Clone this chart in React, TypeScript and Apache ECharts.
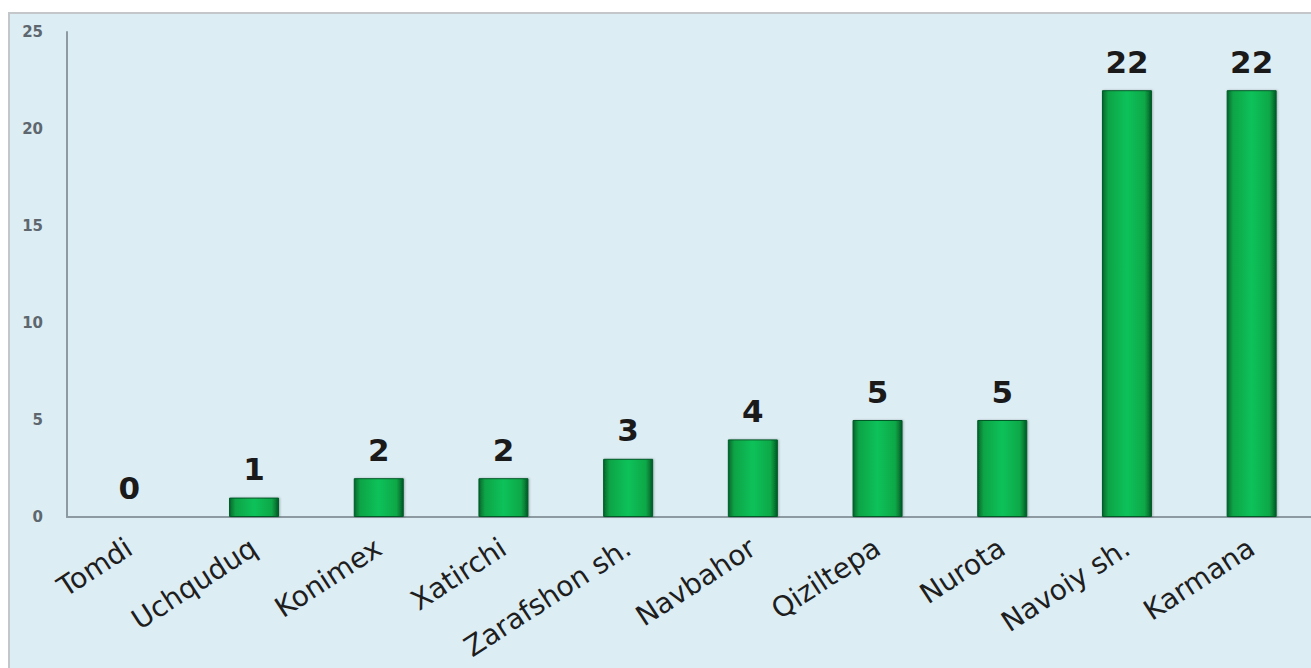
import React, { useEffect, useRef } from "react";
import * as echarts from "echarts";

const categories = [
  "Tomdi",
  "Uchquduq",
  "Konimex",
  "Xatirchi",
  "Zarafshon sh.",
  "Navbahor",
  "Qiziltepa",
  "Nurota",
  "Navoiy sh.",
  "Karmana",
];
const values = [0, 1, 2, 2, 3, 4, 5, 5, 22, 22];
const yTicks = { min: 0, max: 25, interval: 5 };

export default function App() {
  const ref = useRef<HTMLDivElement>(null);
  useEffect(() => {
    if (!ref.current) return;
    const chart = echarts.init(ref.current, null, { renderer: "svg" });
    const barGrad = new echarts.graphic.LinearGradient(0, 0, 1, 0, [
      { offset: 0, color: "#05672c" },
      { offset: 0.12, color: "#0aa446" },
      { offset: 0.5, color: "#0fc25a" },
      { offset: 0.86, color: "#0aa848" },
      { offset: 1, color: "#045a25" },
    ]);
    chart.setOption({
      animation: false,
      backgroundColor: "#ddedf4",
      grid: {
        left: 57,
        top: 18,
        width: 1247,
        height: 485,
        containLabel: false,
        outerBoundsMode: "none",
      },
      xAxis: {
        type: "category",
        data: categories,
        axisLine: { lineStyle: { color: "#8e9aa2", width: 2 } },
        axisTick: { show: false },
        axisLabel: {
          interval: 0,
          rotate: 33,
          margin: 28,
          fontSize: 28,
          fontFamily: "DejaVu Sans",
          color: "#1e1e1e",
        },
      },
      yAxis: {
        type: "value",
        min: yTicks.min,
        max: yTicks.max,
        interval: yTicks.interval,
        axisLine: { show: true, lineStyle: { color: "#8e9aa2", width: 2 } },
        axisTick: { show: false },
        splitLine: { show: false },
        axisLabel: {
          margin: 24,
          fontSize: 15,
          fontWeight: "bold",
          fontFamily: "DejaVu Sans",
          color: "#5d676d",
        },
      },
      series: [
        {
          type: "bar",
          data: values,
          barWidth: 50,
          itemStyle: {
            color: barGrad,
            borderColor: "#055a27",
            borderWidth: 1,
            shadowColor: "rgba(0,0,0,0.25)",
            shadowBlur: 2,
            shadowOffsetX: 1,
          },
          label: {
            show: true,
            position: "top",
            distance: 13,
            fontSize: 31,
            fontWeight: "bold",
            fontFamily: "DejaVu Sans",
            color: "#1a1a1a",
          },
        },
      ],
    });
    return () => chart.dispose();
  }, []);
  return (
    <div
      style={{
        position: "fixed",
        left: 8,
        top: 12,
        width: 1303,
        height: 656,
        borderTop: "2px solid #c3c7c9",
        borderLeft: "2px solid #c3c7c9",
        boxSizing: "border-box",
        background: "#ddedf4",
      }}
    >
      <div ref={ref} style={{ width: 1301, height: 654 }} />
    </div>
  );
}
